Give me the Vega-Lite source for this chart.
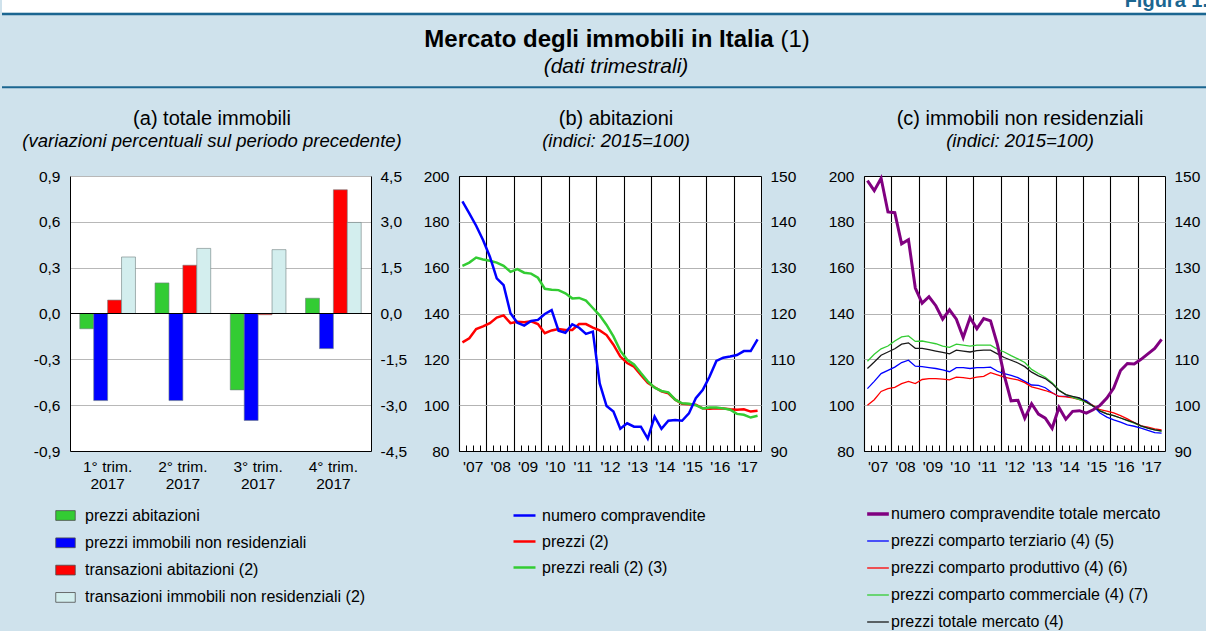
{
  "$schema": "https://vega.github.io/schema/vega-lite/v6.json",
  "background": "#cfe2ec",
  "padding": 0,
  "spacing": 19,
  "config": {
    "font": "Liberation Sans",
    "view": {"stroke": null},
    "axis": {"labelFont": "Liberation Sans", "labelFontSize": 15.5, "labelColor": "#000", "domainColor": "#000", "tickColor": "#000", "gridColor": "#b3b3b3", "titleColor": "#000"},
    "legend": {"labelFont": "Liberation Sans", "labelFontSize": 16, "labelColor": "#000", "labelLimit": 400},
    "title": {"font": "Liberation Sans", "fontSize": 20, "fontWeight": "normal", "color": "#000", "subtitleFont": "Liberation Sans", "subtitleFontSize": 18.5, "subtitleFontStyle": "italic", "subtitleColor": "#000", "subtitlePadding": 0, "offset": 19, "anchor": "middle"},
    "text": {"font": "Liberation Sans"}
  },
  "datasets": {
    "a": [
      {"q":"1° trim. 2017","s":"prezzi abitazioni","v":-0.1},
      {"q":"1° trim. 2017","s":"prezzi immobili non residenziali","v":-0.57},
      {"q":"1° trim. 2017","s":"transazioni abitazioni (2)","v":0.44},
      {"q":"1° trim. 2017","s":"transazioni immobili non residenziali (2)","v":1.85},
      {"q":"2° trim. 2017","s":"prezzi abitazioni","v":0.2},
      {"q":"2° trim. 2017","s":"prezzi immobili non residenziali","v":-0.57},
      {"q":"2° trim. 2017","s":"transazioni abitazioni (2)","v":1.58},
      {"q":"2° trim. 2017","s":"transazioni immobili non residenziali (2)","v":2.13},
      {"q":"3° trim. 2017","s":"prezzi abitazioni","v":-0.5},
      {"q":"3° trim. 2017","s":"prezzi immobili non residenziali","v":-0.7},
      {"q":"3° trim. 2017","s":"transazioni abitazioni (2)","v":-0.04},
      {"q":"3° trim. 2017","s":"transazioni immobili non residenziali (2)","v":2.09},
      {"q":"4° trim. 2017","s":"prezzi abitazioni","v":0.1},
      {"q":"4° trim. 2017","s":"prezzi immobili non residenziali","v":-0.23},
      {"q":"4° trim. 2017","s":"transazioni abitazioni (2)","v":4.05},
      {"q":"4° trim. 2017","s":"transazioni immobili non residenziali (2)","v":2.98}
    ],
    "b": [
      {"t":2007.125,"s":"nc","v":188.9},{"t":2007.375,"s":"nc","v":183.7},{"t":2007.625,"s":"nc","v":178.3},{"t":2007.875,"s":"nc","v":172.1},
      {"t":2008.125,"s":"nc","v":164.8},{"t":2008.375,"s":"nc","v":155.3},{"t":2008.625,"s":"nc","v":152.4},{"t":2008.875,"s":"nc","v":140.1},
      {"t":2009.125,"s":"nc","v":136.0},{"t":2009.375,"s":"nc","v":134.7},{"t":2009.625,"s":"nc","v":136.7},{"t":2009.875,"s":"nc","v":137.2},
      {"t":2010.125,"s":"nc","v":139.8},{"t":2010.375,"s":"nc","v":141.5},{"t":2010.625,"s":"nc","v":132.5},{"t":2010.875,"s":"nc","v":131.6},
      {"t":2011.125,"s":"nc","v":135.3},{"t":2011.375,"s":"nc","v":133.8},{"t":2011.625,"s":"nc","v":131.1},{"t":2011.875,"s":"nc","v":132.1},
      {"t":2012.125,"s":"nc","v":109.5},{"t":2012.375,"s":"nc","v":99.6},{"t":2012.625,"s":"nc","v":97.2},{"t":2012.875,"s":"nc","v":89.7},
      {"t":2013.125,"s":"nc","v":92.1},{"t":2013.375,"s":"nc","v":90.6},{"t":2013.625,"s":"nc","v":90.6},{"t":2013.875,"s":"nc","v":85.4},
      {"t":2014.125,"s":"nc","v":95.0},{"t":2014.375,"s":"nc","v":89.7},{"t":2014.625,"s":"nc","v":93.2},{"t":2014.875,"s":"nc","v":93.5},
      {"t":2015.125,"s":"nc","v":93.2},{"t":2015.375,"s":"nc","v":96.4},{"t":2015.625,"s":"nc","v":103.0},{"t":2015.875,"s":"nc","v":106.6},
      {"t":2016.125,"s":"nc","v":112.4},{"t":2016.375,"s":"nc","v":119.3},{"t":2016.625,"s":"nc","v":120.7},{"t":2016.875,"s":"nc","v":121.2},
      {"t":2017.125,"s":"nc","v":121.9},{"t":2017.375,"s":"nc","v":123.6},{"t":2017.625,"s":"nc","v":123.6},{"t":2017.875,"s":"nc","v":128.7},
      {"t":2007.125,"s":"p","v":113.7},{"t":2007.375,"s":"p","v":114.6},{"t":2007.625,"s":"p","v":116.6},{"t":2007.875,"s":"p","v":117.2},
      {"t":2008.125,"s":"p","v":117.9},{"t":2008.375,"s":"p","v":119.1},{"t":2008.625,"s":"p","v":119.6},{"t":2008.875,"s":"p","v":117.9},
      {"t":2009.125,"s":"p","v":118.2},{"t":2009.375,"s":"p","v":118.1},{"t":2009.625,"s":"p","v":118.3},{"t":2009.875,"s":"p","v":117.7},
      {"t":2010.125,"s":"p","v":115.7},{"t":2010.375,"s":"p","v":116.3},{"t":2010.625,"s":"p","v":116.6},{"t":2010.875,"s":"p","v":116.4},
      {"t":2011.125,"s":"p","v":116.4},{"t":2011.375,"s":"p","v":117.7},{"t":2011.625,"s":"p","v":117.7},{"t":2011.875,"s":"p","v":116.9},
      {"t":2012.125,"s":"p","v":116.3},{"t":2012.375,"s":"p","v":115.3},{"t":2012.625,"s":"p","v":113.2},{"t":2012.875,"s":"p","v":110.6},
      {"t":2013.125,"s":"p","v":109.2},{"t":2013.375,"s":"p","v":108.4},{"t":2013.625,"s":"p","v":106.6},{"t":2013.875,"s":"p","v":104.9},
      {"t":2014.125,"s":"p","v":103.9},{"t":2014.375,"s":"p","v":103.0},{"t":2014.625,"s":"p","v":102.6},{"t":2014.875,"s":"p","v":101.2},
      {"t":2015.125,"s":"p","v":100.3},{"t":2015.375,"s":"p","v":100.2},{"t":2015.625,"s":"p","v":100.1},{"t":2015.875,"s":"p","v":99.3},
      {"t":2016.125,"s":"p","v":99.2},{"t":2016.375,"s":"p","v":99.3},{"t":2016.625,"s":"p","v":99.3},{"t":2016.875,"s":"p","v":99.1},
      {"t":2017.125,"s":"p","v":99.0},{"t":2017.375,"s":"p","v":99.1},{"t":2017.625,"s":"p","v":98.6},{"t":2017.875,"s":"p","v":98.8},
      {"t":2007.125,"s":"pr","v":130.4},{"t":2007.375,"s":"pr","v":131.1},{"t":2007.625,"s":"pr","v":132.2},{"t":2007.875,"s":"pr","v":131.8},
      {"t":2008.125,"s":"pr","v":131.5},{"t":2008.375,"s":"pr","v":131.1},{"t":2008.625,"s":"pr","v":130.4},{"t":2008.875,"s":"pr","v":129.1},
      {"t":2009.125,"s":"pr","v":129.7},{"t":2009.375,"s":"pr","v":128.9},{"t":2009.625,"s":"pr","v":128.7},{"t":2009.875,"s":"pr","v":127.8},
      {"t":2010.125,"s":"pr","v":125.4},{"t":2010.375,"s":"pr","v":125.2},{"t":2010.625,"s":"pr","v":125.1},{"t":2010.875,"s":"pr","v":124.4},
      {"t":2011.125,"s":"pr","v":123.3},{"t":2011.375,"s":"pr","v":123.4},{"t":2011.625,"s":"pr","v":122.8},{"t":2011.875,"s":"pr","v":121.2},
      {"t":2012.125,"s":"pr","v":119.6},{"t":2012.375,"s":"pr","v":117.5},{"t":2012.625,"s":"pr","v":115.0},{"t":2012.875,"s":"pr","v":111.9},
      {"t":2013.125,"s":"pr","v":109.9},{"t":2013.375,"s":"pr","v":108.9},{"t":2013.625,"s":"pr","v":107.0},{"t":2013.875,"s":"pr","v":105.2},
      {"t":2014.125,"s":"pr","v":103.8},{"t":2014.375,"s":"pr","v":103.1},{"t":2014.625,"s":"pr","v":102.8},{"t":2014.875,"s":"pr","v":101.2},
      {"t":2015.125,"s":"pr","v":100.4},{"t":2015.375,"s":"pr","v":100.3},{"t":2015.625,"s":"pr","v":100.0},{"t":2015.875,"s":"pr","v":99.3},
      {"t":2016.125,"s":"pr","v":99.5},{"t":2016.375,"s":"pr","v":99.5},{"t":2016.625,"s":"pr","v":99.3},{"t":2016.875,"s":"pr","v":99.0},
      {"t":2017.125,"s":"pr","v":98.1},{"t":2017.375,"s":"pr","v":97.9},{"t":2017.625,"s":"pr","v":97.3},{"t":2017.875,"s":"pr","v":97.7}
    ],
    "c": [
      {"t":2007.125,"s":"nc","v":198.0},{"t":2007.375,"s":"nc","v":193.6},{"t":2007.625,"s":"nc","v":199.0},{"t":2007.875,"s":"nc","v":184.3},
      {"t":2008.125,"s":"nc","v":184.0},{"t":2008.375,"s":"nc","v":170.4},{"t":2008.625,"s":"nc","v":172.2},{"t":2008.875,"s":"nc","v":151.1},
      {"t":2009.125,"s":"nc","v":144.5},{"t":2009.375,"s":"nc","v":147.3},{"t":2009.625,"s":"nc","v":143.4},{"t":2009.875,"s":"nc","v":137.5},
      {"t":2010.125,"s":"nc","v":141.6},{"t":2010.375,"s":"nc","v":137.5},{"t":2010.625,"s":"nc","v":129.5},{"t":2010.875,"s":"nc","v":138.2},
      {"t":2011.125,"s":"nc","v":133.4},{"t":2011.375,"s":"nc","v":137.8},{"t":2011.625,"s":"nc","v":136.8},{"t":2011.875,"s":"nc","v":126.5},
      {"t":2012.125,"s":"nc","v":113.0},{"t":2012.375,"s":"nc","v":101.9},{"t":2012.625,"s":"nc","v":102.1},{"t":2012.875,"s":"nc","v":94.3},
      {"t":2013.125,"s":"nc","v":100.6},{"t":2013.375,"s":"nc","v":96.1},{"t":2013.625,"s":"nc","v":94.3},{"t":2013.875,"s":"nc","v":89.9},
      {"t":2014.125,"s":"nc","v":99.0},{"t":2014.375,"s":"nc","v":93.9},{"t":2014.625,"s":"nc","v":97.3},{"t":2014.875,"s":"nc","v":97.6},
      {"t":2015.125,"s":"nc","v":96.5},{"t":2015.375,"s":"nc","v":98.0},{"t":2015.625,"s":"nc","v":99.9},{"t":2015.875,"s":"nc","v":103.1},
      {"t":2016.125,"s":"nc","v":107.5},{"t":2016.375,"s":"nc","v":115.1},{"t":2016.625,"s":"nc","v":118.2},{"t":2016.875,"s":"nc","v":118.0},
      {"t":2017.125,"s":"nc","v":120.0},{"t":2017.375,"s":"nc","v":122.4},{"t":2017.625,"s":"nc","v":124.8},{"t":2017.875,"s":"nc","v":128.7},
      {"t":2007.125,"s":"t","v":103.6},{"t":2007.375,"s":"t","v":105.2},{"t":2007.625,"s":"t","v":106.9},{"t":2007.875,"s":"t","v":107.6},
      {"t":2008.125,"s":"t","v":108.3},{"t":2008.375,"s":"t","v":109.3},{"t":2008.625,"s":"t","v":109.8},{"t":2008.875,"s":"t","v":108.5},
      {"t":2009.125,"s":"t","v":108.4},{"t":2009.375,"s":"t","v":108.2},{"t":2009.625,"s":"t","v":108.0},{"t":2009.875,"s":"t","v":107.7},
      {"t":2010.125,"s":"t","v":107.3},{"t":2010.375,"s":"t","v":108.2},{"t":2010.625,"s":"t","v":108.2},{"t":2010.875,"s":"t","v":108.0},
      {"t":2011.125,"s":"t","v":108.2},{"t":2011.375,"s":"t","v":108.2},{"t":2011.625,"s":"t","v":108.3},{"t":2011.875,"s":"t","v":107.4},
      {"t":2012.125,"s":"t","v":106.9},{"t":2012.375,"s":"t","v":106.5},{"t":2012.625,"s":"t","v":106.0},{"t":2012.875,"s":"t","v":105.2},
      {"t":2013.125,"s":"t","v":104.4},{"t":2013.375,"s":"t","v":104.3},{"t":2013.625,"s":"t","v":103.8},{"t":2013.875,"s":"t","v":102.7},
      {"t":2014.125,"s":"t","v":101.9},{"t":2014.375,"s":"t","v":101.9},{"t":2014.625,"s":"t","v":101.7},{"t":2014.875,"s":"t","v":101.4},
      {"t":2015.125,"s":"t","v":101.0},{"t":2015.375,"s":"t","v":99.8},{"t":2015.625,"s":"t","v":98.3},{"t":2015.875,"s":"t","v":97.4},
      {"t":2016.125,"s":"t","v":96.8},{"t":2016.375,"s":"t","v":96.3},{"t":2016.625,"s":"t","v":95.7},{"t":2016.875,"s":"t","v":95.4},
      {"t":2017.125,"s":"t","v":95.0},{"t":2017.375,"s":"t","v":94.5},{"t":2017.625,"s":"t","v":94.0},{"t":2017.875,"s":"t","v":93.9},
      {"t":2007.125,"s":"pp","v":100.0},{"t":2007.375,"s":"pp","v":101.2},{"t":2007.625,"s":"pp","v":103.0},{"t":2007.875,"s":"pp","v":103.6},
      {"t":2008.125,"s":"pp","v":103.9},{"t":2008.375,"s":"pp","v":104.7},{"t":2008.625,"s":"pp","v":105.2},{"t":2008.875,"s":"pp","v":104.7},
      {"t":2009.125,"s":"pp","v":105.6},{"t":2009.375,"s":"pp","v":105.8},{"t":2009.625,"s":"pp","v":105.8},{"t":2009.875,"s":"pp","v":105.7},
      {"t":2010.125,"s":"pp","v":105.5},{"t":2010.375,"s":"pp","v":106.1},{"t":2010.625,"s":"pp","v":106.0},{"t":2010.875,"s":"pp","v":105.8},
      {"t":2011.125,"s":"pp","v":106.1},{"t":2011.375,"s":"pp","v":106.3},{"t":2011.625,"s":"pp","v":107.1},{"t":2011.875,"s":"pp","v":106.6},
      {"t":2012.125,"s":"pp","v":106.1},{"t":2012.375,"s":"pp","v":105.8},{"t":2012.625,"s":"pp","v":105.5},{"t":2012.875,"s":"pp","v":104.9},
      {"t":2013.125,"s":"pp","v":104.0},{"t":2013.375,"s":"pp","v":103.6},{"t":2013.625,"s":"pp","v":103.2},{"t":2013.875,"s":"pp","v":102.7},
      {"t":2014.125,"s":"pp","v":101.9},{"t":2014.375,"s":"pp","v":101.8},{"t":2014.625,"s":"pp","v":101.6},{"t":2014.875,"s":"pp","v":101.2},
      {"t":2015.125,"s":"pp","v":100.7},{"t":2015.375,"s":"pp","v":99.9},{"t":2015.625,"s":"pp","v":99.0},{"t":2015.875,"s":"pp","v":98.7},
      {"t":2016.125,"s":"pp","v":98.3},{"t":2016.375,"s":"pp","v":97.7},{"t":2016.625,"s":"pp","v":97.0},{"t":2016.875,"s":"pp","v":96.2},
      {"t":2017.125,"s":"pp","v":95.5},{"t":2017.375,"s":"pp","v":95.2},{"t":2017.625,"s":"pp","v":94.8},{"t":2017.875,"s":"pp","v":94.6},
      {"t":2007.125,"s":"c","v":109.6},{"t":2007.375,"s":"c","v":111.1},{"t":2007.625,"s":"c","v":112.3},{"t":2007.875,"s":"c","v":112.9},
      {"t":2008.125,"s":"c","v":114.0},{"t":2008.375,"s":"c","v":114.9},{"t":2008.625,"s":"c","v":115.1},{"t":2008.875,"s":"c","v":113.9},
      {"t":2009.125,"s":"c","v":114.0},{"t":2009.375,"s":"c","v":113.7},{"t":2009.625,"s":"c","v":113.4},{"t":2009.875,"s":"c","v":112.9},
      {"t":2010.125,"s":"c","v":112.6},{"t":2010.375,"s":"c","v":113.3},{"t":2010.625,"s":"c","v":113.1},{"t":2010.875,"s":"c","v":112.9},
      {"t":2011.125,"s":"c","v":113.1},{"t":2011.375,"s":"c","v":113.1},{"t":2011.625,"s":"c","v":113.1},{"t":2011.875,"s":"c","v":112.2},
      {"t":2012.125,"s":"c","v":111.6},{"t":2012.375,"s":"c","v":110.8},{"t":2012.625,"s":"c","v":110.1},{"t":2012.875,"s":"c","v":109.3},
      {"t":2013.125,"s":"c","v":107.8},{"t":2013.375,"s":"c","v":106.9},{"t":2013.625,"s":"c","v":106.1},{"t":2013.875,"s":"c","v":104.9},
      {"t":2014.125,"s":"c","v":103.3},{"t":2014.375,"s":"c","v":102.3},{"t":2014.625,"s":"c","v":101.7},{"t":2014.875,"s":"c","v":101.2},
      {"t":2015.125,"s":"c","v":100.6},{"t":2015.375,"s":"c","v":99.8},{"t":2015.625,"s":"c","v":98.8},{"t":2015.875,"s":"c","v":98.1},
      {"t":2016.125,"s":"c","v":97.7},{"t":2016.375,"s":"c","v":97.2},{"t":2016.625,"s":"c","v":96.6},{"t":2016.875,"s":"c","v":96.1},
      {"t":2017.125,"s":"c","v":95.4},{"t":2017.375,"s":"c","v":95.0},{"t":2017.625,"s":"c","v":94.6},{"t":2017.875,"s":"c","v":94.3},
      {"t":2007.125,"s":"tot","v":108.0},{"t":2007.375,"s":"tot","v":109.4},{"t":2007.625,"s":"tot","v":110.9},{"t":2007.875,"s":"tot","v":111.6},
      {"t":2008.125,"s":"tot","v":112.3},{"t":2008.375,"s":"tot","v":113.3},{"t":2008.625,"s":"tot","v":113.6},{"t":2008.875,"s":"tot","v":112.4},
      {"t":2009.125,"s":"tot","v":112.4},{"t":2009.375,"s":"tot","v":112.1},{"t":2009.625,"s":"tot","v":111.8},{"t":2009.875,"s":"tot","v":111.5},
      {"t":2010.125,"s":"tot","v":111.2},{"t":2010.375,"s":"tot","v":112.0},{"t":2010.625,"s":"tot","v":111.8},{"t":2010.875,"s":"tot","v":111.6},
      {"t":2011.125,"s":"tot","v":111.9},{"t":2011.375,"s":"tot","v":112.0},{"t":2011.625,"s":"tot","v":112.0},{"t":2011.875,"s":"tot","v":111.2},
      {"t":2012.125,"s":"tot","v":110.4},{"t":2012.375,"s":"tot","v":109.8},{"t":2012.625,"s":"tot","v":109.2},{"t":2012.875,"s":"tot","v":108.4},
      {"t":2013.125,"s":"tot","v":107.2},{"t":2013.375,"s":"tot","v":106.4},{"t":2013.625,"s":"tot","v":105.8},{"t":2013.875,"s":"tot","v":104.7},
      {"t":2014.125,"s":"tot","v":103.2},{"t":2014.375,"s":"tot","v":102.3},{"t":2014.625,"s":"tot","v":101.9},{"t":2014.875,"s":"tot","v":101.6},
      {"t":2015.125,"s":"tot","v":100.7},{"t":2015.375,"s":"tot","v":99.8},{"t":2015.625,"s":"tot","v":98.7},{"t":2015.875,"s":"tot","v":98.1},
      {"t":2016.125,"s":"tot","v":97.7},{"t":2016.375,"s":"tot","v":97.2},{"t":2016.625,"s":"tot","v":96.7},{"t":2016.875,"s":"tot","v":96.2},
      {"t":2017.125,"s":"tot","v":95.5},{"t":2017.375,"s":"tot","v":95.0},{"t":2017.625,"s":"tot","v":94.6},{"t":2017.875,"s":"tot","v":94.4}
    ]
  },
  "resolve": {"scale": {"x": "independent", "y": "independent", "color": "independent"}},
  "vconcat": [
    {
      "width": 1138,
      "height": 89,
      "view": {"stroke": null},
      "data": {"values": [{"titolo": "Mercato degli immobili in Italia", "nota": "(1)", "sottotitolo": "(dati trimestrali)", "figura": "Figura 1."}]},
      "layer": [
        {"mark": {"type": "rect", "color": "#ffffff"}, "encoding": {
          "x": {"datum": -68, "type": "quantitative", "scale": {"domain": [0, 1138], "nice": false, "zero": false}, "axis": null},
          "x2": {"datum": 1138},
          "y": {"datum": 0, "type": "quantitative", "scale": {"domain": [0, 89], "reverse": true, "nice": false, "zero": false}, "axis": null},
          "y2": {"datum": 12.8}}},
        {"mark": {"type": "rule", "color": "#1b6691", "strokeWidth": 2.6}, "encoding": {"x": {"datum": -68, "type": "quantitative", "axis": null}, "x2": {"datum": 1138}, "y": {"datum": 14, "type": "quantitative", "axis": null}}},
        {"mark": {"type": "rule", "color": "#1b6691", "strokeWidth": 2}, "encoding": {"x": {"datum": -68, "type": "quantitative", "axis": null}, "x2": {"datum": 1138}, "y": {"datum": 87.3, "type": "quantitative", "axis": null}}},
        {"mark": {"type": "text", "align": "right", "baseline": "alphabetic", "dx": 134.7, "fontSize": 24, "fontWeight": "bold", "color": "#000"},
         "encoding": {"y": {"datum": 46.7, "type": "quantitative", "axis": null}, "text": {"field": "titolo"}}},
        {"mark": {"type": "text", "align": "left", "baseline": "alphabetic", "dx": 141.4, "fontSize": 24, "color": "#000"},
         "encoding": {"y": {"datum": 46.7, "type": "quantitative", "axis": null}, "text": {"field": "nota"}}},
        {"mark": {"type": "text", "align": "center", "baseline": "alphabetic", "dx": -23, "fontSize": 21, "fontStyle": "italic", "color": "#000"},
         "encoding": {"y": {"datum": 72.5, "type": "quantitative", "axis": null}, "text": {"field": "sottotitolo"}}},
        {"mark": {"type": "text", "align": "right", "baseline": "alphabetic", "fontSize": 20, "fontWeight": "bold", "color": "#1b6691", "clip": true},
         "encoding": {"x": {"datum": 1138, "type": "quantitative", "axis": null}, "y": {"datum": 6.5, "type": "quantitative", "axis": null}, "text": {"field": "figura"}}}
      ]
    },
    {
      "spacing": 0,
      "bounds": "flush",
      "resolve": {"scale": {"x": "independent", "y": "independent", "color": "independent", "xOffset": "independent"}},
      "hconcat": [
        {
          "width": 301,
          "height": 275,
          "title": {"text": "(a) totale immobili", "subtitle": "(variazioni percentuali sul periodo precedente)", "dx": -8.5},
          "view": {"fill": "#ffffff", "stroke": null},
          "data": {"name": "a"},
          "layer": [
            {
              "transform": [{"filter": "datum.s === 'prezzi abitazioni' || datum.s === 'prezzi immobili non residenziali'"}],
              "mark": {"type": "bar", "stroke": "#6f7f7f", "strokeWidth": 0.6},
              "encoding": {
                "x": {"field": "q", "type": "nominal", "sort": null, "scale": {"paddingInner": 0.26, "paddingOuter": 0.13},
                      "axis": {"title": null, "labelAngle": 0, "labelExpr": "[slice(datum.label, 0, 8), slice(datum.label, 9)]", "labelPadding": 8.5, "labelLineHeight": 17, "labelBaseline": "top", "domain": true, "domainColor": "#000", "domainWidth": 1, "ticks": false}},
                "xOffset": {"field": "s", "type": "nominal", "scale": {"domain": ["prezzi abitazioni", "prezzi immobili non residenziali", "transazioni abitazioni (2)", "transazioni immobili non residenziali (2)"], "paddingInner": 0, "paddingOuter": 0}},
                "color": {"field": "s", "type": "nominal",
                          "scale": {"domain": ["prezzi abitazioni", "prezzi immobili non residenziali", "transazioni abitazioni (2)", "transazioni immobili non residenziali (2)"], "range": ["#33cc33", "#0000ff", "#ff0000", "#d3eeee"]},
                          "legend": {"title": null, "orient": "none", "legendX": -15, "legendY": 329, "direction": "vertical", "symbolType": "M-1,-0.5H1V0.5H-1Z", "symbolSize": 380, "symbolStrokeColor": "#4d4d4d", "symbolStrokeWidth": 0.8, "labelFontSize": 16, "labelOffset": 9, "rowPadding": 8.3, "padding": 0}},
                "y": {"field": "v", "type": "quantitative", "scale": {"domain": [-0.9, 0.9], "nice": false, "zero": false},
                      "axis": {"orient": "left", "title": null, "values": [-0.9, -0.6, -0.3, 0, 0.3, 0.6, 0.9],
                               "labelExpr": "replace(replace(format(datum.value, '.1f'), '.', ','), '\u2212', '-')",
                               "grid": true, "gridColor": "#b8b8b8", "gridOpacity": {"condition": {"test": "datum.value < -0.8 || (datum.value > -0.1 && datum.value < 0.1)", "value": 0}, "value": 1},
                               "domain": true, "domainColor": "#000", "ticks": false, "labelPadding": 10}}
              }
            },
            {
              "layer": [
                {
                  "transform": [{"filter": "datum.s === 'transazioni abitazioni (2)' || datum.s === 'transazioni immobili non residenziali (2)'"}],
                  "mark": {"type": "bar", "stroke": "#6f7f7f", "strokeWidth": 0.6},
                  "encoding": {
                    "x": {"field": "q", "type": "nominal", "sort": null, "scale": {"paddingInner": 0.26, "paddingOuter": 0.13},
                          "axis": {"title": null, "labelAngle": 0, "labelExpr": "[slice(datum.label, 0, 8), slice(datum.label, 9)]", "labelPadding": 8.5, "labelLineHeight": 17, "labelBaseline": "top", "domain": true, "domainColor": "#000", "domainWidth": 1, "ticks": false}},
                    "xOffset": {"field": "s", "type": "nominal", "scale": {"domain": ["prezzi abitazioni", "prezzi immobili non residenziali", "transazioni abitazioni (2)", "transazioni immobili non residenziali (2)"], "paddingInner": 0, "paddingOuter": 0}},
                    "color": {"field": "s", "type": "nominal",
                              "scale": {"domain": ["prezzi abitazioni", "prezzi immobili non residenziali", "transazioni abitazioni (2)", "transazioni immobili non residenziali (2)"], "range": ["#33cc33", "#0000ff", "#ff0000", "#d3eeee"]},
                              "legend": {"title": null, "orient": "none", "legendX": -15, "legendY": 329, "direction": "vertical", "symbolType": "M-1,-0.5H1V0.5H-1Z", "symbolSize": 380, "symbolStrokeColor": "#4d4d4d", "symbolStrokeWidth": 0.8, "labelFontSize": 16, "labelOffset": 9, "rowPadding": 8.3, "padding": 0}},
                    "y": {"field": "v", "type": "quantitative", "scale": {"domain": [-4.5, 4.5], "nice": false, "zero": false},
                          "axis": {"orient": "right", "title": null, "values": [-4.5, -3, -1.5, 0, 1.5, 3, 4.5],
                                   "labelExpr": "replace(replace(format(datum.value, '.1f'), '.', ','), '\u2212', '-')",
                                   "grid": false, "domain": true, "domainColor": "#000", "ticks": false, "labelPadding": 9}}
                  }
                },
                {
                  "transform": [{"filter": "datum.s === 'prezzi abitazioni' && datum.q === '1° trim. 2017'"}],
                  "mark": {"type": "rule", "color": "#000", "strokeWidth": 1.2},
                  "encoding": {"y": {"datum": 0, "type": "quantitative"}}
                }
              ]
            }
          ],
          "resolve": {"scale": {"y": "independent"}}
        },
        {"width": 88, "height": 275, "data": {"values": []}, "mark": "point"},
        {
          "width": 302,
          "height": 275,
          "title": {"text": "(b) abitazioni", "subtitle": "(indici: 2015=100)", "dx": 6},
          "view": {"fill": "#ffffff", "stroke": "#000", "strokeWidth": 1},
          "data": {"name": "b"},
          "layer": [
            {
              "transform": [{"filter": "datum.s !== 'nc'"}],
              "mark": {"type": "line", "strokeWidth": 2.5},
              "encoding": {
                "x": {"field": "t", "type": "quantitative", "scale": {"domain": [2007, 2018], "nice": false, "zero": false},
                      "axis": {"title": null, "values": [2007,2007.25,2007.5,2007.75,2008,2008.25,2008.5,2008.75,2009,2009.25,2009.5,2009.75,2010,2010.25,2010.5,2010.75,2011,2011.25,2011.5,2011.75,2012,2012.25,2012.5,2012.75,2013,2013.25,2013.5,2013.75,2014,2014.25,2014.5,2014.75,2015,2015.25,2015.5,2015.75,2016,2016.25,2016.5,2016.75,2017,2017.25,2017.5,2017.75],
                               "labelExpr": "datum.value % 1 === 0 ? \"'\" + substring(toString(datum.value), 2, 4) : ''",
                               "labelOffset": 13.7, "labelFlush": false, "labelOverlap": false, "labelBound": false, "labelPadding": 14.5,
                               "grid": true, "gridColor": "#000", "gridWidth": 1.1, "gridOpacity": {"condition": {"test": "datum.value % 1 === 0", "value": 1}, "value": 0},
                               "ticks": true, "tickSize": -6, "tickColor": "#000", "tickWidth": 1, "domain": false}},
                "y": {"field": "v", "type": "quantitative", "scale": {"domain": [90, 150], "nice": false, "zero": false},
                      "axis": {"orient": "right", "title": null, "values": [90, 100, 110, 120, 130, 140, 150], "grid": false, "domain": false, "ticks": false, "labelPadding": 9}},
                "color": {"field": "s", "type": "nominal", "scale": {"domain": ["nc", "p", "pr"], "range": ["#0000ff", "#ff0000", "#33cc33"]},
                          "legend": {"title": null, "orient": "none", "legendX": 53, "legendY": 327, "direction": "vertical", "symbolType": "stroke", "symbolSize": 484, "symbolStrokeWidth": 2.5, "labelFontSize": 16, "labelOffset": 5, "rowPadding": 5, "padding": 0,
                                     "labelExpr": "datum.label === 'nc' ? 'numero compravendite' : datum.label === 'p' ? 'prezzi (2)' : 'prezzi reali (2) (3)'"}}
              }
            },
            {
              "transform": [{"filter": "datum.s === 'nc'"}],
              "mark": {"type": "line", "strokeWidth": 2.5},
              "encoding": {
                "x": {"field": "t", "type": "quantitative", "scale": {"domain": [2007, 2018], "nice": false, "zero": false},
                      "axis": {"title": null, "values": [2007,2007.25,2007.5,2007.75,2008,2008.25,2008.5,2008.75,2009,2009.25,2009.5,2009.75,2010,2010.25,2010.5,2010.75,2011,2011.25,2011.5,2011.75,2012,2012.25,2012.5,2012.75,2013,2013.25,2013.5,2013.75,2014,2014.25,2014.5,2014.75,2015,2015.25,2015.5,2015.75,2016,2016.25,2016.5,2016.75,2017,2017.25,2017.5,2017.75],
                               "labelExpr": "datum.value % 1 === 0 ? \"'\" + substring(toString(datum.value), 2, 4) : ''",
                               "labelOffset": 13.7, "labelFlush": false, "labelOverlap": false, "labelBound": false, "labelPadding": 14.5,
                               "grid": true, "gridColor": "#000", "gridWidth": 1.1, "gridOpacity": {"condition": {"test": "datum.value % 1 === 0", "value": 1}, "value": 0},
                               "ticks": true, "tickSize": -6, "tickColor": "#000", "tickWidth": 1, "domain": false}},
                "y": {"field": "v", "type": "quantitative", "scale": {"domain": [80, 200], "nice": false, "zero": false},
                      "axis": {"orient": "left", "title": null, "values": [80, 100, 120, 140, 160, 180, 200], "grid": true, "gridColor": "#b3b3b3", "gridOpacity": {"condition": {"test": "datum.value === 80 || datum.value === 200", "value": 0}, "value": 1}, "domain": false, "ticks": false, "labelPadding": 10}},
                "color": {"field": "s", "type": "nominal", "scale": {"domain": ["nc", "p", "pr"], "range": ["#0000ff", "#ff0000", "#33cc33"]}}
              }
            }
          ],
          "resolve": {"scale": {"y": "independent"}}
        },
        {"width": 103, "height": 275, "data": {"values": []}, "mark": "point"},
        {
          "width": 301,
          "height": 275,
          "title": {"text": "(c) immobili non residenziali", "subtitle": "(indici: 2015=100)", "dx": 5.5},
          "view": {"fill": "#ffffff", "stroke": "#000", "strokeWidth": 1},
          "data": {"name": "c"},
          "layer": [
            {
              "transform": [{"filter": "datum.s !== 'nc'"}],
              "mark": {"type": "line", "strokeWidth": 1.3},
              "encoding": {
                "x": {"field": "t", "type": "quantitative", "scale": {"domain": [2007, 2018], "nice": false, "zero": false},
                      "axis": {"title": null, "values": [2007,2007.25,2007.5,2007.75,2008,2008.25,2008.5,2008.75,2009,2009.25,2009.5,2009.75,2010,2010.25,2010.5,2010.75,2011,2011.25,2011.5,2011.75,2012,2012.25,2012.5,2012.75,2013,2013.25,2013.5,2013.75,2014,2014.25,2014.5,2014.75,2015,2015.25,2015.5,2015.75,2016,2016.25,2016.5,2016.75,2017,2017.25,2017.5,2017.75],
                               "labelExpr": "datum.value % 1 === 0 ? \"'\" + substring(toString(datum.value), 2, 4) : ''",
                               "labelOffset": 13.7, "labelFlush": false, "labelOverlap": false, "labelBound": false, "labelPadding": 14.5,
                               "grid": true, "gridColor": "#000", "gridWidth": 1.1, "gridOpacity": {"condition": {"test": "datum.value % 1 === 0", "value": 1}, "value": 0},
                               "ticks": true, "tickSize": -6, "tickColor": "#000", "tickWidth": 1, "domain": false}},
                "y": {"field": "v", "type": "quantitative", "scale": {"domain": [90, 150], "nice": false, "zero": false},
                      "axis": {"orient": "right", "title": null, "values": [90, 100, 110, 120, 130, 140, 150], "grid": false, "domain": false, "ticks": false, "labelPadding": 9}},
                "color": {"field": "s", "type": "nominal", "scale": {"domain": ["nc", "t", "pp", "c", "tot"], "range": ["#800080", "#0000ff", "#ff0000", "#33cc33", "#1a1a1a"]},
                          "legend": {"title": null, "orient": "none", "legendX": 6, "legendY": 330, "direction": "vertical", "symbolType": "stroke", "symbolSize": 470, "symbolStrokeWidth": 1.3, "labelFontSize": 16, "labelOffset": 5, "rowPadding": 11, "padding": 0,
                                     "labelExpr": "datum.label === 'nc' ? 'numero compravendite totale mercato' : datum.label === 't' ? 'prezzi comparto terziario (4) (5)' : datum.label === 'pp' ? 'prezzi comparto produttivo (4) (6)' : datum.label === 'c' ? 'prezzi comparto commerciale (4) (7)' : 'prezzi totale mercato (4)'",
                                     "encode": {"symbols": {"update": {"strokeWidth": {"signal": "datum.value === 'nc' ? 3.5 : 1.3"}}}}}}
              }
            },
            {
              "transform": [{"filter": "datum.s === 'nc'"}],
              "mark": {"type": "line", "strokeWidth": 3},
              "encoding": {
                "x": {"field": "t", "type": "quantitative", "scale": {"domain": [2007, 2018], "nice": false, "zero": false},
                      "axis": {"title": null, "values": [2007,2007.25,2007.5,2007.75,2008,2008.25,2008.5,2008.75,2009,2009.25,2009.5,2009.75,2010,2010.25,2010.5,2010.75,2011,2011.25,2011.5,2011.75,2012,2012.25,2012.5,2012.75,2013,2013.25,2013.5,2013.75,2014,2014.25,2014.5,2014.75,2015,2015.25,2015.5,2015.75,2016,2016.25,2016.5,2016.75,2017,2017.25,2017.5,2017.75],
                               "labelExpr": "datum.value % 1 === 0 ? \"'\" + substring(toString(datum.value), 2, 4) : ''",
                               "labelOffset": 13.7, "labelFlush": false, "labelOverlap": false, "labelBound": false, "labelPadding": 14.5,
                               "grid": true, "gridColor": "#000", "gridWidth": 1.1, "gridOpacity": {"condition": {"test": "datum.value % 1 === 0", "value": 1}, "value": 0},
                               "ticks": true, "tickSize": -6, "tickColor": "#000", "tickWidth": 1, "domain": false}},
                "y": {"field": "v", "type": "quantitative", "scale": {"domain": [80, 200], "nice": false, "zero": false},
                      "axis": {"orient": "left", "title": null, "values": [80, 100, 120, 140, 160, 180, 200], "grid": true, "gridColor": "#b3b3b3", "gridOpacity": {"condition": {"test": "datum.value === 80 || datum.value === 200", "value": 0}, "value": 1}, "domain": false, "ticks": false, "labelPadding": 10}},
                "color": {"field": "s", "type": "nominal", "scale": {"domain": ["nc", "t", "pp", "c", "tot"], "range": ["#800080", "#0000ff", "#ff0000", "#33cc33", "#1a1a1a"]}}
              }
            }
          ],
          "resolve": {"scale": {"y": "independent"}}
        }
      ]
    }
  ]
}
